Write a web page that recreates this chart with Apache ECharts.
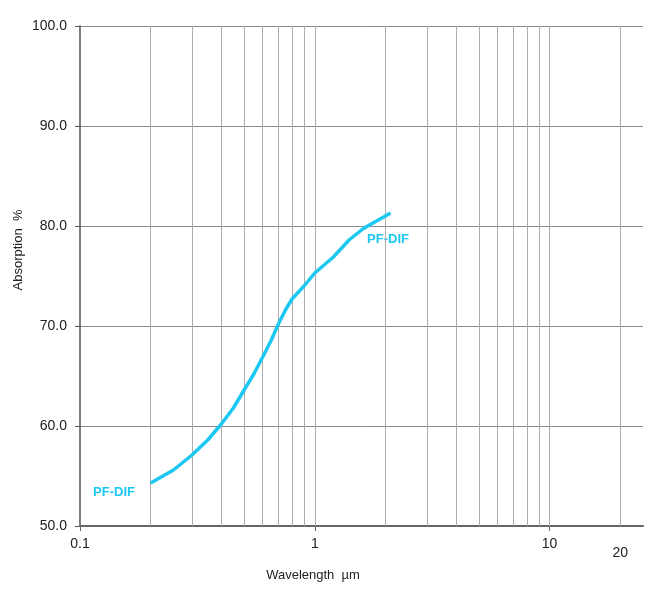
<!DOCTYPE html>
<html>
<head>
<meta charset="utf-8">
<script src="https://cdn.jsdelivr.net/npm/echarts@6/dist/echarts.min.js"></script>
<style>html,body{margin:0;padding:0;background:#fff}#c{width:659px;height:600px}</style>
</head>
<body>
<div id="c"></div>
<script>
var wavelengths = [0.2,0.25,0.3,0.35,0.4,0.45,0.5,0.55,0.6,0.65,0.7,0.75,0.8,0.9,1.0,1.2,1.4,1.6,1.8,2.0,2.1];
var absorption = [54.3,55.6,57.1,58.6,60.2,61.8,63.6,65.2,66.9,68.5,70.2,71.6,72.7,74.0,75.3,76.9,78.6,79.7,80.4,81.0,81.3];
var seriesName = 'PF-DIF';
var xTickLabels = [0.1, 1, 10, 20];
var xTickMarks = [0.1, 1, 10];
var xGridValues = [0.2,0.3,0.4,0.5,0.6,0.7,0.8,0.9,1,2,3,4,5,6,7,8,9,10,20];

var chart = echarts.init(document.getElementById('c'));
var font = 'Liberation Sans, Arial, sans-serif';
var cyan = '#1CC8F2';
var data = wavelengths.map(function(x,i){return [x, absorption[i]];});

chart.setOption({
  animation:false,
  grid:{left:80,right:16,top:26,bottom:74},
  xAxis:{
    type:'log', logBase:10, min:0.1, max:25,
    axisLine:{lineStyle:{color:'#666',width:2}},
    axisTick:{show:true,length:5,lineStyle:{color:'#666'},customValues:xTickMarks},
    splitLine:{show:false},
    axisLabel:{margin:11,fontSize:14,fontFamily:font,color:'#222',customValues:xTickLabels,
      formatter:function(v){
        if(Math.abs(v-20)<1e-6) return '{low|20}';
        return String(Math.round(v*10)/10);
      },
      rich:{low:{fontSize:14,fontFamily:font,color:'#222',padding:[9,0,0,0]}}
    }
  },
  yAxis:{
    type:'value', min:50, max:100, interval:10,
    axisLine:{show:true,lineStyle:{color:'#555',width:1.5}},
    axisTick:{show:true,length:5,lineStyle:{color:'#555'}},
    splitLine:{show:true,lineStyle:{color:'#8a8a8a',width:1}},
    axisLabel:{margin:13,fontSize:14,fontFamily:font,color:'#222',formatter:function(v){return v.toFixed(1);}}
  },
  series:[{
    type:'line', name:seriesName, data:data, showSymbol:false, smooth:false,
    lineStyle:{color:cyan,width:3.5}, itemStyle:{color:cyan}, z:5,
    markLine:{
      silent:true, symbol:'none', label:{show:false},
      lineStyle:{color:'#adadad',width:1,type:'solid'},
      data:xGridValues.map(function(v){return {xAxis:v};}),
      z:1
    }
  }],
  graphic:[
    {type:'text',x:313,y:575,style:{text:'Wavelength  \u00b5m',font:'13px '+font,fill:'#222',textAlign:'center',textVerticalAlign:'middle'}},
    {type:'text',x:18,y:250,rotation:Math.PI/2,style:{text:'Absorption  %',font:'13px '+font,fill:'#222',textAlign:'center',textVerticalAlign:'middle'}},
    {type:'text',x:114,y:492,style:{text:seriesName,font:'bold 13px '+font,fill:cyan,textAlign:'center',textVerticalAlign:'middle'}},
    {type:'text',x:388,y:239,style:{text:seriesName,font:'bold 13px '+font,fill:cyan,textAlign:'center',textVerticalAlign:'middle'}}
  ]
});
</script>
</body>
</html>
